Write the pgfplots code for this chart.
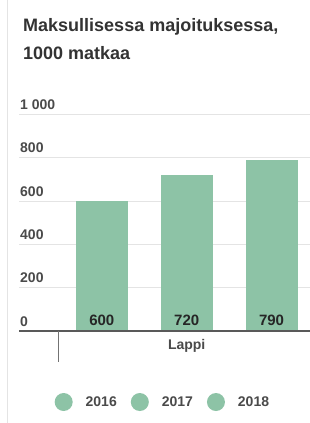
\documentclass[border=0pt]{standalone}
\usepackage{fontspec}
\setmainfont{Liberation Sans}
\usepackage{pgfplots}
\pgfplotsset{compat=1.18}
\definecolor{barc}{HTML}{8DC3A6}
\definecolor{gridc}{HTML}{E4E4E4}
\definecolor{txt}{HTML}{4A4A4A}
\definecolor{ttl}{HTML}{333333}
\begin{document}
\begin{tikzpicture}[x=1pt,y=1pt]
\useasboundingbox (0,0) rectangle (310,423);
\fill[white] (0,0) rectangle (310,423);
\draw[gridc, line width=1pt] (7,0) -- (7,423);
\node[anchor=base west, inner sep=0pt, font=\fontsize{18}{20}\selectfont\bfseries, text=ttl] at (23,391) {Maksullisessa majoituksessa,};
\node[anchor=base west, inner sep=0pt, font=\fontsize{18}{20}\selectfont\bfseries, text=ttl] at (23,363) {1000 matkaa};
\begin{axis}[
  at={(19pt,92pt)}, anchor=south west,
  scale only axis, width=291pt, height=216.5pt,
  xmin=-0.976, xmax=2.453, ymin=0, ymax=1000,
  clip=false,
  axis line style={draw=none},
  ytick={0,200,400,600,800,1000},
  yticklabels={0,200,400,600,800,1\ 000},
  ymajorgrids, grid style={gridc, line width=1pt},
  major tick length=0pt,
  yticklabel style={anchor=base west, inner sep=0pt, xshift=1pt, yshift=5pt,
    font=\fontsize{14}{16}\selectfont\bfseries, text=txt},
  xtick={1}, xticklabels={Lappi},
  xticklabel style={anchor=north, inner sep=0pt, yshift=-8pt,
    font=\fontsize{14}{16}\selectfont\bfseries, text=txt},
  legend columns=3,
  legend style={at={(0.491,-0.328)}, anchor=center, draw=none, fill=none,
    font=\fontsize{14}{16}\selectfont\bfseries, text=txt,
    nodes={inner sep=0pt},
    /tikz/every odd column/.style={column sep=13pt},
    /tikz/every even column/.style={column sep=14pt}},
]
\addplot[ybar, bar width=52pt, bar shift=0pt, fill=barc, draw=none,
  legend image code/.code={\fill[barc] (0pt,0pt) circle (9pt);}] coordinates {(0,600)};
\addlegendentry{2016}
\addplot[ybar, bar width=52pt, bar shift=0pt, fill=barc, draw=none,
  legend image code/.code={\fill[barc] (0pt,0pt) circle (9pt);}] coordinates {(1,720)};
\addlegendentry{2017}
\addplot[ybar, bar width=52pt, bar shift=0pt, fill=barc, draw=none,
  legend image code/.code={\fill[barc] (0pt,0pt) circle (9pt);}] coordinates {(2,790)};
\addlegendentry{2018}
\addplot[draw=none, mark=none, forget plot, nodes near coords, point meta=explicit symbolic,
  nodes near coords style={anchor=base, inner sep=0pt, yshift=5.5pt,
    font=\fontsize{15}{17}\selectfont\bfseries, text=black!85}]
  coordinates {(0,0) [600] (1,0) [720] (2,0) [790]};
\draw[black!65, line width=1.3pt] (axis cs:-0.976,0) -- (axis cs:2.453,0);
\draw[black!55, line width=1pt] (axis cs:-0.506,0) -- ([yshift=-31pt]axis cs:-0.506,0);
\end{axis}
\end{tikzpicture}
\end{document}
